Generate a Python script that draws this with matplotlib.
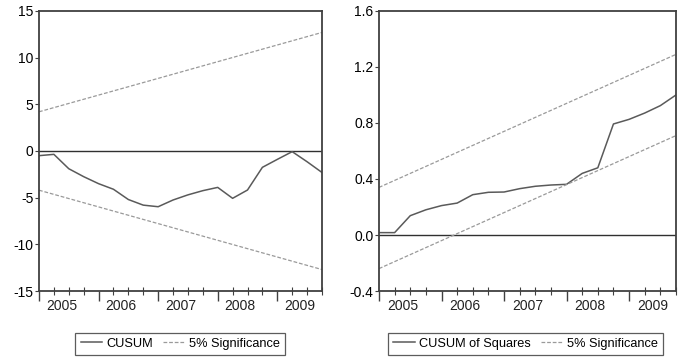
import matplotlib
matplotlib.use("Agg")
from matplotlib import pyplot as plt

plt.rcParams['font.family'] = ['Liberation Sans Narrow', 'Liberation Sans', 'DejaVu Sans']

# quarterly observations 2005Q1 .. 2009Q4
obs = list(range(20))
year_labels = ["2005", "2006", "2007", "2008", "2009"]

cusum = [-0.5, -0.36, -1.9, -2.75, -3.5, -4.1, -5.2, -5.8, -5.97, -5.25,
         -4.7, -4.25, -3.9, -5.07, -4.18, -1.75, -0.9, -0.07, -1.15, -2.3]
cusum_sig_x = [0, 19]
cusum_upper = [4.2, 12.7]
cusum_lower = [-4.2, -12.7]

cusumsq = [0.017, 0.017, 0.138, 0.18, 0.21, 0.228, 0.288, 0.305, 0.307, 0.331,
           0.348, 0.357, 0.362, 0.44, 0.48, 0.793, 0.826, 0.871, 0.924, 1.0]
sq_upper = [0.34, 1.29]
sq_lower = [-0.24, 0.71]

LINE = "#5a5a5a"
DASH = "#9a9a9a"
SPINE = "#404040"
FS = 9.2


def style_axis(ax, ylim, yticks, ylabels):
    ax.set_xlim(0, 19)
    ax.set_ylim(*ylim)
    ax.set_yticks(yticks)
    ax.set_yticklabels(ylabels)
    ax.axhline(0, color="#303030", lw=1.0, zorder=1)
    # minor ticks every quarter, longer ticks at each year start
    ax.set_xticks([0, 4, 8, 12, 16])
    ax.set_xticklabels([])
    ax.set_xticks(obs, minor=True)
    ax.tick_params(axis="x", which="major", direction="out", length=7, width=1.0, color=SPINE)
    ax.tick_params(axis="x", which="minor", direction="inout", length=6, width=0.8, color=SPINE)
    ax.tick_params(axis="y", direction="out", length=3, width=0.8, color=SPINE,
                   labelsize=FS + 0.8, pad=1)
    for i, lab in enumerate(year_labels):
        ax.text(1.5 + 4 * i, -0.03, lab, transform=ax.get_xaxis_transform(),
                ha="center", va="top", fontsize=FS + 0.8, color="#222222")
    for s in ax.spines.values():
        s.set_color(SPINE)
        s.set_linewidth(1.3)


fig = plt.figure(figsize=(6.83, 3.59), dpi=100)
ax1 = fig.add_axes([0.0571, 0.1894, 0.4143, 0.78])
ax2 = fig.add_axes([0.5549, 0.1894, 0.4348, 0.78])

ax1.plot(obs, cusum, color=LINE, lw=1.1, label="CUSUM")
ax1.plot(cusum_sig_x, cusum_upper, color=DASH, lw=0.9, dashes=(3, 1.5), label="5% Significance")
ax1.plot(cusum_sig_x, cusum_lower, color=DASH, lw=0.9, dashes=(3, 1.5))
style_axis(ax1, (-15, 15), [-15, -10, -5, 0, 5, 10, 15],
           ["-15", "-10", "-5", "0", "5", "10", "15"])

ax2.plot(obs, cusumsq, color=LINE, lw=1.1, label="CUSUM of Squares")
ax2.plot(cusum_sig_x, sq_upper, color=DASH, lw=0.9, dashes=(3, 1.5), label="5% Significance")
ax2.plot(cusum_sig_x, sq_lower, color=DASH, lw=0.9, dashes=(3, 1.5))
style_axis(ax2, (-0.4, 1.6), [-0.4, 0.0, 0.4, 0.8, 1.2, 1.6],
           ["-0.4", "0.0", "0.4", "0.8", "1.2", "1.6"])

for ax, cx in [(ax1, 0.2636), (ax2, 0.7694)]:
    leg = ax.legend(loc="center", bbox_to_anchor=(cx, 0.0426), bbox_transform=fig.transFigure,
                    ncol=2, fontsize=FS, frameon=True, fancybox=False, handlelength=1.7,
                    handletextpad=0.3, columnspacing=0.8, borderpad=0.4, borderaxespad=0)
    leg.get_frame().set_edgecolor("#333333")
    leg.get_frame().set_linewidth(0.9)

plt.savefig("out.png", dpi=100)
